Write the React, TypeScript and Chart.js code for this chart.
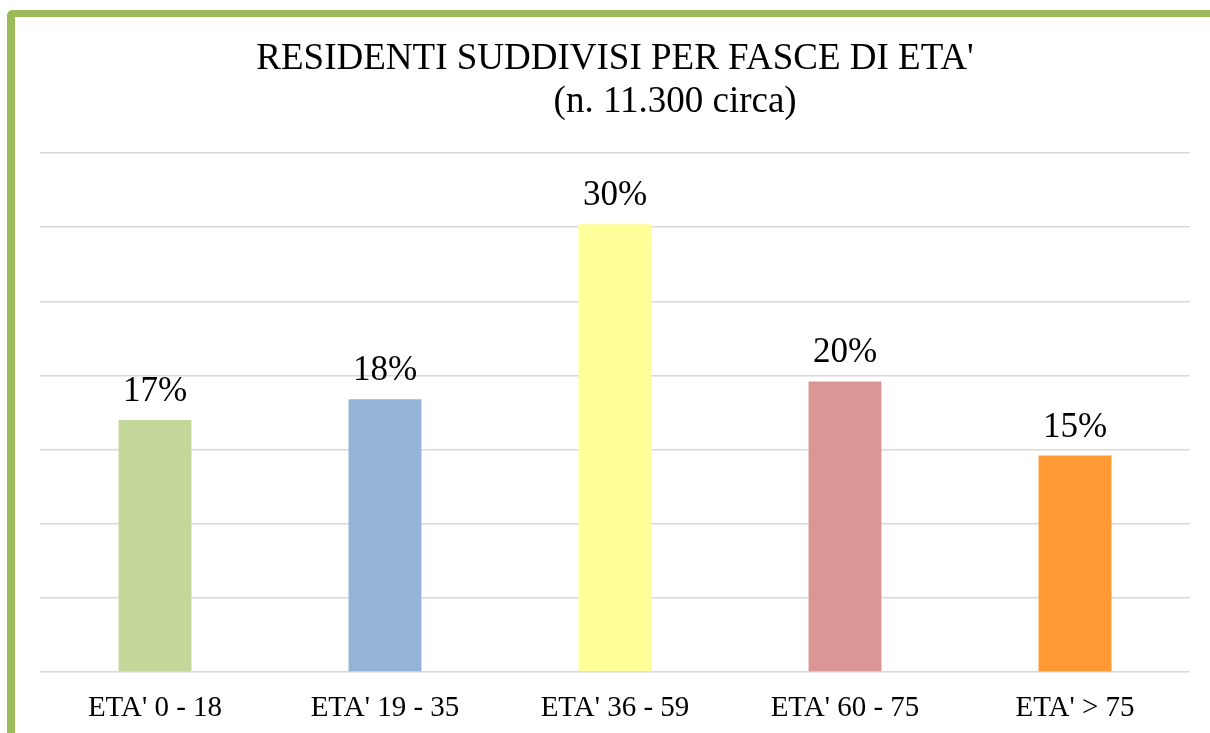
import React, { useEffect, useRef } from "react";
import { Chart, registerables } from "chart.js";

Chart.register(...registerables);

const categories = ["ETA' 0 - 18", "ETA' 19 - 35", "ETA' 36 - 59", "ETA' 60 - 75", "ETA' > 75"];
const values = [17.0, 18.4, 30.2, 19.6, 14.6];
const valueLabels = ["17%", "18%", "30%", "20%", "15%"];
const barColors = ["#C4D79B", "#95B3D7", "#FFFF99", "#DA9694", "#FF9933"];
const titleLines = ["RESIDENTI SUDDIVISI PER FASCE DI ETA'", "             (n. 11.300 circa)"];
const yMin = 0;
const yMax = 35;
const yStep = 5;

const FONT = "'Liberation Serif', 'Times New Roman', Times, serif";

const valueLabelPlugin = {
  id: "valueLabelPlugin",
  afterDatasetsDraw(chart: any) {
    const ctx = chart.ctx;
    const meta = chart.getDatasetMeta(0);
    ctx.save();
    ctx.font = `35px ${FONT}`;
    ctx.fillStyle = "#000000";
    ctx.textAlign = "center";
    ctx.textBaseline = "alphabetic";
    meta.data.forEach((el: any, i: number) => {
      ctx.fillText(valueLabels[i], el.x, el.y - 19);
    });
    ctx.restore();
  },
};

export default function App() {
  const canvasRef = useRef<HTMLCanvasElement | null>(null);

  useEffect(() => {
    if (!canvasRef.current) return;
    const chart = new Chart(canvasRef.current, {
      type: "bar",
      data: {
        labels: categories,
        datasets: [
          {
            data: values,
            backgroundColor: barColors,
            borderWidth: 0,
            categoryPercentage: 1,
            barPercentage: 0.317,
          },
        ],
      },
      options: {
        responsive: false,
        animation: false,
        layout: { padding: { left: 40, right: 20, top: 0, bottom: 0 } },
        plugins: {
          legend: { display: false },
          tooltip: { enabled: false },
          title: {
            display: true,
            text: titleLines,
            color: "#000000",
            font: { family: FONT, size: 37, weight: "normal", lineHeight: 1.15 },
            padding: { top: 38, bottom: 30 },
          },
        },
        scales: {
          x: {
            grid: { display: false, drawTicks: false },
            border: { display: false },
            ticks: {
              color: "#000000",
              font: { family: FONT, size: 29 },
              padding: 19,
              maxRotation: 0,
            },
            afterFit(scale: any) {
              scale.height = 61;
            },
          },
          y: {
            min: yMin,
            max: yMax,
            ticks: { stepSize: yStep, display: false },
            grid: { color: "#D9D9D9", lineWidth: 1.5, drawTicks: false },
            border: { display: false },
          },
        },
      },
      plugins: [valueLabelPlugin],
    });
    return () => chart.destroy();
  }, []);

  return (
    <div
      style={{
        position: "absolute",
        left: 0,
        top: 0,
        width: 1210,
        height: 733,
        overflow: "hidden",
        background: "#ffffff",
      }}
    >
      <div
        style={{
          position: "absolute",
          left: 7,
          top: 10,
          width: 1400,
          height: 900,
          borderLeft: "8px solid #9BBB59",
          borderTop: "7px solid #9BBB59",
          borderTopLeftRadius: 6,
        }}
      />
      <canvas
        ref={canvasRef}
        width={1210}
        height={733}
        style={{ position: "absolute", left: 0, top: 0, width: 1210, height: 733 }}
      />
    </div>
  );
}
